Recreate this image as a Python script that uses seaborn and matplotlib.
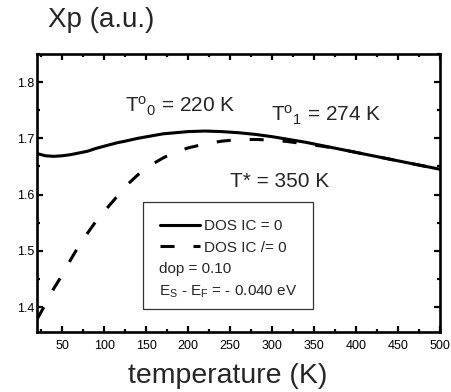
import matplotlib
matplotlib.use("Agg")
import matplotlib.pyplot as plt
from matplotlib.patches import Rectangle
from matplotlib.ticker import MultipleLocator
import seaborn as sns
import pandas as pd

# temperature grid (K)
temperature = [20, 30, 40, 50, 60, 70, 80, 90, 100, 115, 125, 140, 155, 170, 185,
               200, 220, 240, 260, 280, 300, 320, 340, 360, 380, 400, 420, 440,
               460, 480, 500]
# Pauli susceptibility, interchain coupling switched off
xp_ic_zero = [1.673, 1.669, 1.668, 1.669, 1.671, 1.674, 1.677, 1.682, 1.686, 1.692,
              1.695, 1.700, 1.704, 1.708, 1.710, 1.712, 1.713, 1.712, 1.710, 1.707,
              1.703, 1.698, 1.693, 1.687, 1.681, 1.675, 1.669, 1.663, 1.657, 1.651,
              1.645]
# Pauli susceptibility, interchain coupling switched on
xp_ic_nonzero = [1.378, 1.405, 1.433, 1.457, 1.484, 1.509, 1.531, 1.552, 1.570, 1.596,
                 1.614, 1.635, 1.652, 1.665, 1.676, 1.683, 1.690, 1.695, 1.698, 1.698,
                 1.697, 1.694, 1.690, 1.686, 1.681, 1.675, 1.669, 1.663, 1.657, 1.651,
                 1.645]
series_labels = ["DOS IC = 0", "DOS IC /= 0"]
x_ticks = [50, 100, 150, 200, 250, 300, 350, 400, 450, 500]
y_ticks = [1.4, 1.5, 1.6, 1.7, 1.8]

sns.set_style("ticks")
plt.rcParams["font.family"] = ["Liberation Sans", "DejaVu Sans"]
plt.rcParams["mathtext.fontset"] = "custom"
plt.rcParams["mathtext.rm"] = "Liberation Sans"
plt.rcParams["mathtext.it"] = "Liberation Sans:italic"
plt.rcParams["mathtext.bf"] = "Liberation Sans:bold"

df = pd.DataFrame({"T": temperature, "a": xp_ic_zero, "b": xp_ic_nonzero})

fig = plt.figure(figsize=(4.51, 3.92), dpi=100)
ax = fig.add_axes([37 / 451, 60 / 392, 403 / 451, 278 / 392])

sns.lineplot(data=df, x="T", y="a", ax=ax, color="black", linewidth=2.2,
             label=series_labels[0])
sns.lineplot(data=df, x="T", y="b", ax=ax, color="black", linewidth=2.2,
             linestyle=(0, (4.6, 6.2)), label=series_labels[1])

ax.set_xlim(20, 500)
ax.set_ylim(1.3556, 1.85)
ax.set_xticks(x_ticks)
ax.set_yticks(y_ticks)
ax.xaxis.set_minor_locator(MultipleLocator(25))
ax.yaxis.set_minor_locator(MultipleLocator(0.05))
ax.tick_params(which="both", direction="in", top=True, right=True, width=1.6,
               colors="black", labelsize=9)
ax.tick_params(which="major", length=4)
ax.tick_params(which="minor", length=2.5)
ax.tick_params(axis="x", pad=5.5)
ax.tick_params(axis="y", pad=2)
for s in ax.spines.values():
    s.set_linewidth(1.9)
    s.set_color("black")
ax.set_xlabel("")
ax.set_ylabel("")

# axis titles
fig.text(227.5 / 451, 9 / 392, "temperature (K)", fontsize=20.5, ha="center",
         va="baseline")
fig.text(48 / 451, 365 / 392, "Xp (a.u.)", fontsize=20, ha="left", va="baseline")

# characteristic temperatures
ax.text(125, 1.746, r"T$^{\mathrm{o}}{}_{\mathrm{0}}$ = 220 K", fontsize=15,
        ha="left", va="baseline")
ax.text(299, 1.730, r"T$^{\mathrm{o}}{}_{\mathrm{1}}$ = 274 K", fontsize=15,
        ha="left", va="baseline")
ax.text(250, 1.6128, "T* = 350 K", fontsize=15, ha="left", va="baseline")

# legend box with the parameters
ax.add_patch(Rectangle((106 / 403, 23 / 278), 170 / 403, 107 / 278,
                       transform=ax.transAxes, fill=False, edgecolor="#333333",
                       linewidth=0.9, zorder=3))
leg = ax.legend(loc="upper left", bbox_to_anchor=(123 / 403, 113 / 278),
                frameon=False, fontsize=11, handlelength=2.6, handletextpad=0.3,
                labelspacing=0.5, borderpad=0, borderaxespad=0)
ax.text(122 / 403, 63 / 278, "dop = 0.10", transform=ax.transAxes, fontsize=11,
        ha="left", va="center")
ax.text(122 / 403, 40 / 278, r"E$_{\mathrm{S}}$ - E$_{\mathrm{F}}$ = - 0.040 eV",
        transform=ax.transAxes, fontsize=11, ha="left", va="center")

fig.savefig("out.png", dpi=100)
